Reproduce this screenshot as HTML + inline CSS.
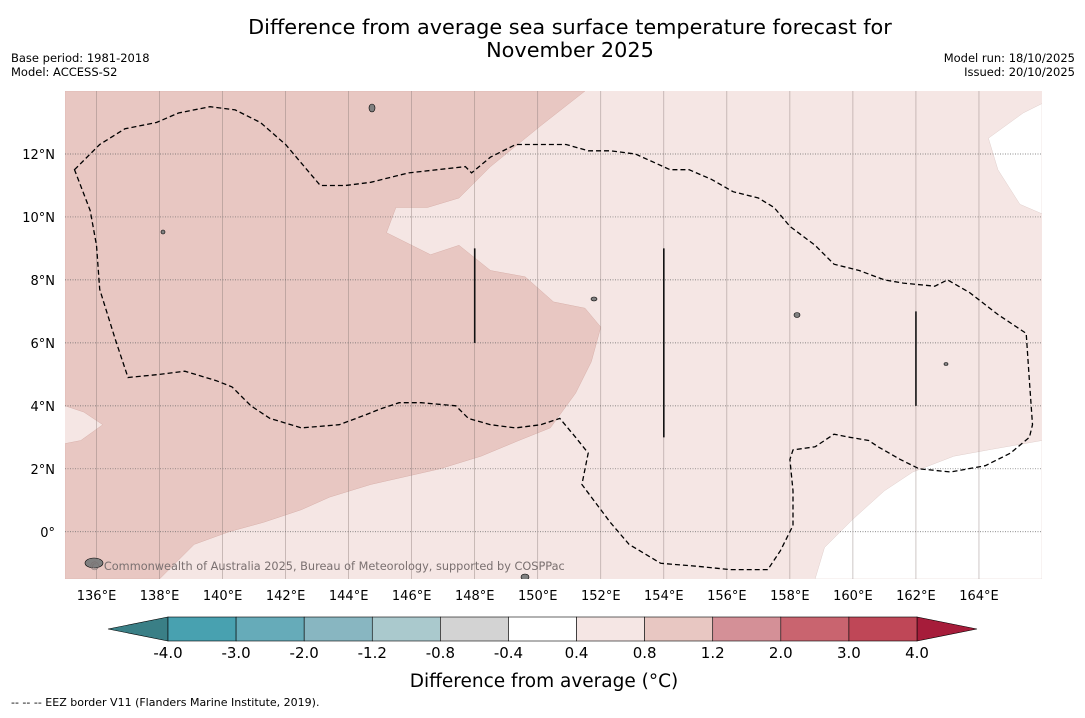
<!DOCTYPE html>
<html><head><meta charset="utf-8"><style>
body{margin:0;background:#fff;font-family:"Liberation Sans","DejaVu Sans",sans-serif;}
svg text{font-family:"DejaVu Sans","Liberation Sans",sans-serif;}
</style></head><body>
<svg id="chart" width="1085" height="713" viewBox="0 0 1085 713">
<rect width="1085" height="713" fill="#fff"/>
<text x="570" y="34" font-size="20.8" text-anchor="middle">Difference from average sea surface temperature forecast for</text>
<text x="570" y="57" font-size="20.8" text-anchor="middle">November 2025</text>
<text x="11" y="62" font-size="11.5">Base period: 1981-2018</text>
<text x="11" y="76" font-size="11.5">Model: ACCESS-S2</text>
<text x="1075" y="62" font-size="11.5" text-anchor="end">Model run: 18/10/2025</text>
<text x="1075" y="76" font-size="11.5" text-anchor="end">Issued: 20/10/2025</text>
<g id="map"></g>
<g id="cbar"></g>
<text x="544" y="687" font-size="18.5" text-anchor="middle">Difference from average (°C)</text>
<text x="11" y="706" font-size="11">--  --  -- EEZ border V11 (Flanders Marine Institute, 2019).</text>
</svg>
<script>
const lonTicks=[136,138,140,142,144,146,148,150,152,154,156,158,160,162,164];
const latTicks=[0,2,4,6,8,10,12];
const darkRegion=[[151.5,14],[150.1,12.9],[148.5,11.6],[147.5,10.6],[146.5,10.3],[145.5,10.3],[145.2,9.5],[146.6,8.8],[147.5,9.1],[148.5,8.3],[149.6,8.1],[150.5,7.3],[151.5,7.1],[152.0,6.5],[151.7,5.4],[151.2,4.4],[150.4,3.3],[149.4,2.9],[148.2,2.4],[146.9,2.0],[144.7,1.5],[143.4,1.1],[142.5,0.7],[141.3,0.3],[140.2,0.0],[139.1,-0.4],[138.0,-1.5],[135,-1.5],[135,2.8],[135.5,2.9],[136.2,3.4],[135.6,3.8],[135,4.0],[135,14]];
const whiteSE=[[158.8,-1.5],[159.1,-0.5],[160.0,0.4],[161.0,1.3],[161.9,1.9],[163.2,2.4],[164.3,2.6],[166,2.9],[166,-1.5]];
const whiteNE=[[166,13.6],[165.4,13.3],[164.3,12.5],[164.6,11.5],[165.3,10.4],[166,10.1]];
const contour1=[[135.3,11.5],[136.1,12.3],[136.9,12.8],[137.9,13.0],[138.6,13.3],[139.6,13.5],[140.4,13.4],[141.2,13.0],[142.0,12.3],[143.1,11.0],[143.9,11.0],[144.7,11.1],[145.9,11.4],[147.7,11.6],[147.9,11.4],[148.5,11.9],[149.3,12.3],[150.1,12.3],[150.9,12.3],[151.6,12.1],[152.3,12.1],[153.1,12.0],[154.2,11.5],[154.8,11.5],[155.5,11.2],[156.2,10.8],[157.0,10.6],[157.5,10.3],[158.0,9.7],[158.8,9.1],[159.4,8.5],[160.2,8.3],[161.0,8.0],[161.6,7.9],[162.6,7.8],[163.0,8.0],[163.7,7.6],[164.6,6.9],[165.5,6.3],[165.6,4.8],[165.7,3.4],[165.6,3.0],[165.0,2.5],[164.2,2.1],[163.1,1.9],[162.1,2.0],[161.5,2.3],[160.8,2.7],[160.5,2.9],[159.9,3.0],[159.4,3.1],[158.8,2.7],[158.1,2.6],[158.0,2.3],[158.1,1.3],[158.1,0.2],[157.7,-0.6],[157.3,-1.2],[156.1,-1.2],[155.1,-1.1],[153.9,-1.0],[152.9,-0.4],[152.3,0.3],[151.4,1.5],[151.6,2.5],[151.2,3.0],[150.7,3.6],[150.1,3.4],[149.3,3.3],[148.5,3.4],[147.8,3.6],[147.4,4.0],[146.3,4.1],[145.6,4.1],[145.0,3.9],[144.5,3.7],[143.7,3.4],[142.5,3.3],[141.5,3.6],[140.9,4.0],[140.3,4.6],[139.8,4.8],[138.8,5.1],[138.0,5.0],[137.0,4.9],[136.6,6.1],[136.1,7.7],[136.0,9.1],[135.8,10.2]];
const eezLines=[[148,9,6],[154,9,3],[162,7,4]];
const cbLevels=["-4.0","-3.0","-2.0","-1.2","-0.8","-0.4","0.4","0.8","1.2","2.0","3.0","4.0"];
const cbColors=["#48a1b0","#66abb9","#88b6c1","#aac9cd","#d3d3d3","#ffffff","#f5e6e4","#e8c7c2","#d49097","#c9646f","#bf4757"];
const NS="http://www.w3.org/2000/svg";
const X0=65,X1=1042,Y0=91,Y1=579;
const LON0=135,LON1=166,LAT0=-1.5,LAT1=14;
const xs=l=>X0+(l-LON0)/(LON1-LON0)*(X1-X0);
const ys=l=>Y1-(l-LAT0)/(LAT1-LAT0)*(Y1-Y0);
const map=document.getElementById('map');
function mk(tag,attrs,parent){const e=document.createElementNS(NS,tag);for(const k in attrs)e.setAttribute(k,attrs[k]);parent.appendChild(e);return e;}
const pts=a=>a.map(p=>xs(p[0]).toFixed(1)+','+ys(p[1]).toFixed(1)).join(' ');
const cp=mk('clipPath',{id:'clip'},map);mk('rect',{x:X0,y:Y0,width:X1-X0,height:Y1-Y0},cp);
const g=mk('g',{'clip-path':'url(#clip)'},map);
let e=mk('rect',{x:X0,y:Y0,width:X1-X0,height:Y1-Y0,fill:'#f5e6e4'},g);

e=mk('polygon',{points:pts(darkRegion),fill:'#e8c7c2',stroke:'#d8b0aa','stroke-width':0.5},g);

e=mk('polygon',{points:pts(whiteSE),fill:'#fff',stroke:'#e0cfcc','stroke-width':0.5},g);

e=mk('polygon',{points:pts(whiteNE),fill:'#fff',stroke:'#e0cfcc','stroke-width':0.5},g);

lonTicks.forEach(l=>{const x=xs(l);
 const ln=mk('line',{x1:x,x2:x,y1:Y0,y2:Y1,stroke:'#8a7a78','stroke-width':0.6,'stroke-opacity':0.7},g);
 
 const t=mk('text',{x:x,y:600,'font-size':13,'text-anchor':'middle'},map);t.textContent=l+'°E';
 });
latTicks.forEach(l=>{const y=ys(l);
 const ln=mk('line',{x1:X0,x2:X1,y1:y,y2:y,stroke:'#666','stroke-width':0.7,'stroke-dasharray':'1,1.5'},g);
 
 const t=mk('text',{x:55,y:y+5,'font-size':13,'text-anchor':'end'},map);t.textContent=l===0?'0°':l+'°N';
 });
e=mk('polygon',{points:pts(contour1),fill:'none',stroke:'#000','stroke-width':1.3,'stroke-dasharray':'5,3'},g);

eezLines.forEach(v=>{const ln=mk('line',{x1:xs(v[0]),x2:xs(v[0]),y1:ys(v[1]),y2:ys(v[2]),stroke:'#111','stroke-width':1.6},g);
 });
[[372,108,3,4],[163,232,2,2],[797,315,3,2.5],[594,299,3,2],[94,563,9,5],[525,577,4,3],[946,364,2,1.5]].forEach(p=>{
 const il=mk('ellipse',{cx:p[0],cy:p[1],rx:p[2],ry:p[3],fill:'#808080',stroke:'#000','stroke-width':0.6},g);
 });
const wm=mk('text',{x:89,y:570,'font-size':11.3,fill:'#7a7070'},g);wm.textContent='© Commonwealth of Australia 2025, Bureau of Meteorology, supported by COSPPac';

const cb=document.getElementById('cbar');
const CX0=168,CX1=917,CY=617,CH=24,bw=(CX1-CX0)/cbColors.length;
let tri=mk('polygon',{points:`${CX0},${CY} ${CX0},${CY+CH} 108,${CY+CH/2}`,fill:'#3a7f86',stroke:'#000','stroke-width':0.6},cb);

tri=mk('polygon',{points:`${CX1},${CY} ${CX1},${CY+CH} 977,${CY+CH/2}`,fill:'#a61c3a',stroke:'#000','stroke-width':0.6},cb);

cbColors.forEach((c,i)=>{const r=mk('rect',{x:CX0+i*bw,y:CY,width:bw,height:CH,fill:c,stroke:'#000','stroke-width':0.6},cb);
 });
cbLevels.forEach((s,i)=>{const t=mk('text',{x:CX0+i*bw,y:658,'font-size':15,'text-anchor':'middle'},cb);t.textContent=s;
 });
</script>
</body></html>
